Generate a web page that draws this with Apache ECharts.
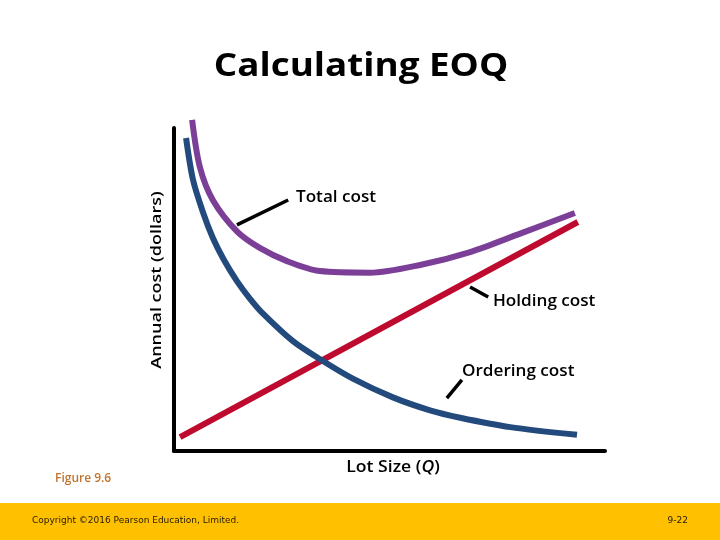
<!DOCTYPE html>
<html>
<head>
<meta charset="utf-8">
<script src="https://cdn.jsdelivr.net/npm/echarts@6/dist/echarts.min.js"></script>
<style>html,body{margin:0;padding:0;background:#fff}#c{width:720px;height:540px}</style>
</head>
<body>
<div id="c"></div>
<script>
// Values (lot size 0-100, annual cost 0-100, arbitrary units)
var orderingCost = [[2.8,96.9],[4.4,84.0],[6.7,74.0],[9.0,66.0],[11.4,59.6],[14.6,52.6],[17.6,47.2],[20.6,42.6],[27.6,34.0],[33.9,28.4],[41.5,22.4],[50.8,16.6],[59.4,12.6],[66.4,10.3],[78.0,7.4],[93.5,5.0]];
var holdingCost = [[1.4,4.3],[93.7,70.9]];
var totalCost = [[4.2,102.5],[6.0,87.9],[9.0,77.7],[14.6,68.0],[20.0,62.8],[26.2,58.8],[33.9,55.7],[45.5,55.2],[57.1,57.6],[68.7,61.6],[80.3,67.3],[93.0,73.7]];
var leaderTotal = [[14.6,70.0],[26.5,77.7]];
var leaderHolding = [[68.7,50.8],[72.9,47.7]];
var leaderOrdering = [[63.3,16.4],[66.8,22.0]];

var chart = echarts.init(document.getElementById('c'), null, {renderer:'canvas'});
var F = '"Open Sans", Lato, sans-serif';
function curve(data, color, w, smooth){
  return {type:'line', data:data, smooth:smooth, symbol:'none', clip:false,
    lineStyle:{color:color, width:w, cap:'butt'}, z:3, silent:true};
}
chart.setOption({
  animation:false,
  backgroundColor:'#ffffff',
  grid:{left:174, right:115, top:128, bottom:89},
  xAxis:{type:'value', min:0, max:100, axisLine:{show:true, onZero:false, lineStyle:{color:'#000', width:4}},
    axisTick:{show:false}, axisLabel:{show:false}, splitLine:{show:false}},
  yAxis:{type:'value', min:0, max:100, axisLine:{show:true, onZero:false, lineStyle:{color:'#000', width:4}},
    axisTick:{show:false}, axisLabel:{show:false}, splitLine:{show:false}},
  series:[
    curve(holdingCost, '#BE0A2E', 6, false),
    curve(orderingCost, '#234A7C', 6, 0.3),
    curve(totalCost, '#7B3F97', 6, 0.3),
    curve(leaderTotal, '#000', 3.5, false),
    curve(leaderHolding, '#000', 3.5, false),
    curve(leaderOrdering, '#000', 3.5, false)
  ],
  graphic:[
    {type:'text', x:361, y:67, scaleX:1.15, style:{text:'Calculating EOQ', font:'bold 32px '+F, fill:'#000', align:'center', verticalAlign:'middle'}},
    {type:'text', x:157, y:280, rotation:Math.PI/2, scaleX:1.2, style:{text:'Annual cost (dollars)', font:'600 15px '+F, fill:'#000', align:'center', verticalAlign:'middle'}},
    {type:'text', x:296, y:197, scaleX:1.07, style:{text:'Total cost', font:'600 16px '+F, fill:'#000', verticalAlign:'middle'}},
    {type:'text', x:493, y:301, scaleX:1.07, style:{text:'Holding cost', font:'600 16px '+F, fill:'#000', verticalAlign:'middle'}},
    {type:'text', x:462, y:371, scaleX:1.07, style:{text:'Ordering cost', font:'600 16px '+F, fill:'#000', verticalAlign:'middle'}},
    {type:'text', x:393, y:467, scaleX:1.1, style:{text:'{a|Lot Size (}{b|Q}{a|)}', align:'center', verticalAlign:'middle',
      rich:{a:{font:'600 16px '+F, fill:'#000'}, b:{font:'italic 600 16px '+F, fill:'#000'}}}},
    {type:'text', x:55, y:479, style:{text:'Figure 9.6', font:'600 12px '+F, fill:'#C0742F', verticalAlign:'middle'}},
    {type:'rect', shape:{x:0, y:503, width:720, height:37}, style:{fill:'#FFC000'}, z:-1},
    {type:'text', x:32, y:521, style:{text:'Copyright ©2016 Pearson Education, Limited.', font:'9px "DejaVu Sans", sans-serif', fill:'#2b2000', verticalAlign:'middle'}},
    {type:'text', x:688, y:521, style:{text:'9-22', font:'9px "DejaVu Sans", sans-serif', fill:'#2b2000', align:'right', verticalAlign:'middle'}}
  ]
});
</script>
</body>
</html>
